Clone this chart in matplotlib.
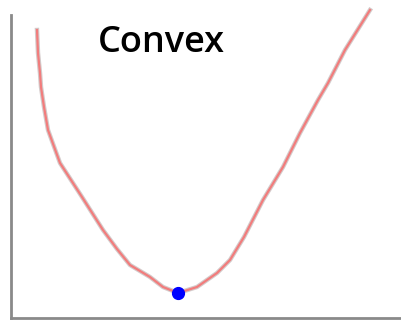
import numpy as np
from matplotlib import pyplot as plt

# curve (x to the right, y up from the bottom axis)
x = [26, 27, 29, 30, 33, 37, 49, 71, 92, 106, 119, 139, 152, 167, 186, 206,
     219, 233, 252, 272, 289, 307, 317, 334, 359]
y = [288, 265, 245, 231, 211, 188, 155, 121, 88, 69, 53, 41, 31, 25, 31, 45,
     58, 81, 118, 151, 185, 218, 235, 268, 308]
min_x = [167]
min_y = [25]
title = 'Convex'

fig = plt.figure(figsize=(4.02, 3.21), dpi=100)
ax = fig.add_axes([11 / 402, 3 / 321, 391 / 402, 318 / 321])
ax.plot(x, y, color='#b8a8a8', linewidth=3.2, solid_joinstyle='round', alpha=0.6, clip_on=False)
ax.plot(x, y, color='#f27c7c', linewidth=1.6, solid_joinstyle='round', clip_on=False)
ax.plot(min_x, min_y, 'o', color='#0000ff', markersize=8.5, zorder=5)
ax.text(150, 275, title, fontsize=26, family='Open Sans', fontweight='semibold',
        ha='center', va='center')

ax.set_xlim(0, 391)
ax.set_ylim(0, 318)
ax.set_xticks([])
ax.set_yticks([])
for s in ['top', 'right']:
    ax.spines[s].set_visible(False)
for s in ['left', 'bottom']:
    ax.spines[s].set_color('#8a8a8a')
    ax.spines[s].set_linewidth(2)
ax.spines['left'].set_bounds(0, 303)

plt.savefig('out.png', dpi=100)
